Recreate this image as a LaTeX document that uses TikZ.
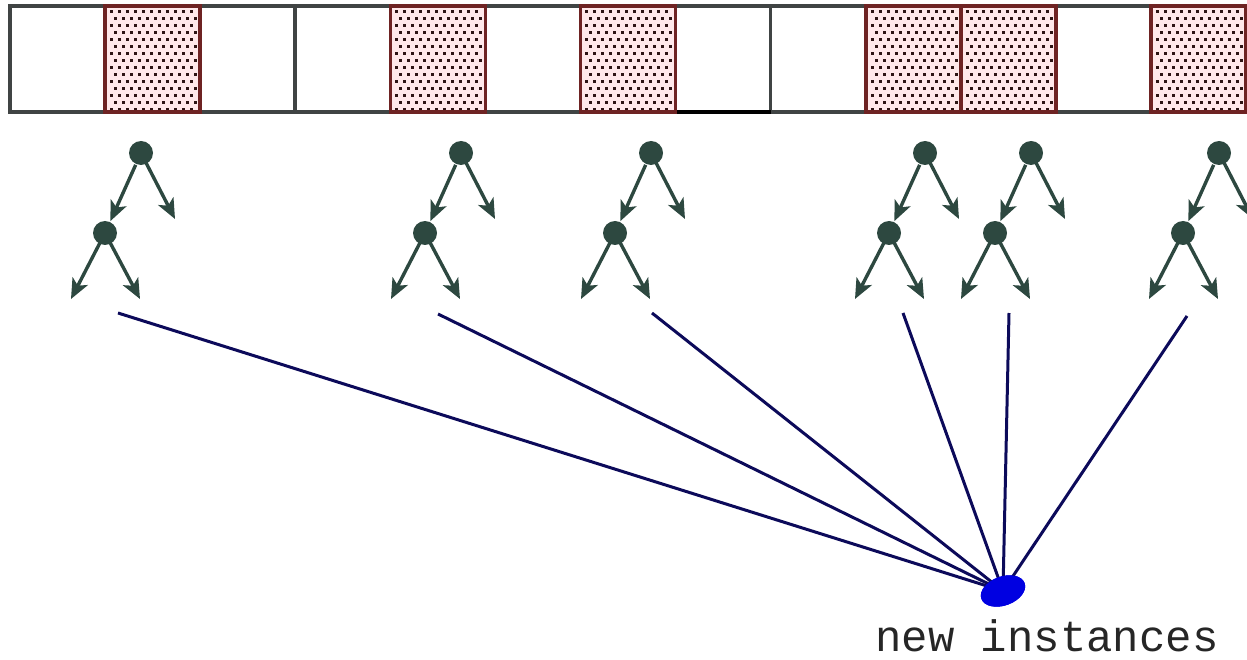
\documentclass[tikz,border=0pt]{standalone}
\usepackage{fontspec}
\setmonofont{Liberation Mono}
\usetikzlibrary{arrows.meta,shapes.geometric}
\definecolor{barline}{RGB}{64,68,68}
\definecolor{hatchline}{RGB}{110,35,35}
\definecolor{hatchfill}{RGB}{255,232,234}
\definecolor{dotcol}{RGB}{45,20,20}
\definecolor{treecol}{RGB}{45,72,64}
\definecolor{linkcol}{RGB}{12,10,90}
\definecolor{blobcol}{RGB}{0,0,225}
\begin{document}
\begin{tikzpicture}[x=1pt,y=-1pt,
  treenode/.style={circle,fill=treecol,inner sep=0pt,minimum size=24pt,outer sep=1pt},
  treearrow/.style={draw=treecol,line width=3.4pt,-{Stealth[length=20pt,width=17pt,inset=5pt]}},
  link/.style={draw=linkcol,line width=3pt},
  blob/.style={ellipse,fill=blobcol,inner sep=0pt,minimum width=46pt,minimum height=29pt,rotate=20},
  label/.style={font=\ttfamily\fontsize{44}{50}\selectfont,text=black!85,anchor=base}]
\useasboundingbox (0,0) rectangle (1247,660);
\def\cw{95.08}
% the strip of thirteen cells
\draw[barline,line width=3.6pt] (10,6) rectangle (1245.5,112);
\foreach \k in {1,...,12} {
  \draw[barline,line width=3.6pt] ({10+\k*\cw},6) -- ({10+\k*\cw},112);
}
\draw[black,line width=3.6pt] ({10+7*\cw},112) -- ({10+8*\cw},112);
% dotted (occupied) cells
\foreach \k in {1,4,6,9,10,12} {
  \pgfmathsetmacro\xa{10+\k*\cw}
  \fill[hatchfill] (\xa,6) rectangle ({\xa+\cw},112);
  \foreach \j in {0,...,14} {
    \foreach \i in {0,...,10} {
      \fill[dotcol] ({\xa+5+8*\i+4*mod(\j,2)},{10+7*\j}) rectangle ++(2.8,2.8);
    }
  }
  \draw[hatchline,line width=3.6pt] (\xa,6) rectangle ({\xa+\cw},112);
}
% the small trees
\foreach \n/\x in {1/141,2/461,3/651,4/925,5/1031,6/1219} {
  \node[treenode] (r\n) at (\x,153) {};
  \node[treenode] (c\n) at (\x-36,233) {};
  \coordinate (rr\n) at (\x+34,219);
  \coordinate (cl\n) at (\x-70,299);
  \coordinate (cr\n) at (\x-1,299);
  \draw[treearrow] (r\n) -- (c\n);
  \draw[treearrow] (r\n.center) -- (rr\n);
  \draw[treearrow] (c\n.center) -- (cl\n);
  \draw[treearrow] (c\n.center) -- (cr\n);
}
% links to the new instances
\node[blob] (new) at (1003,591) {};
\foreach \n/\x/\y in {1/118/313,2/438/314,3/652/313,4/903/313,5/1009/313,6/1187/316} {
  \coordinate (t\n) at (\x,\y);
  \draw[link] (t\n) -- (new.center);
}
\node[blob] at (new) {};
\node[label] (lbl) at (1047,651) {new instances};
\end{tikzpicture}
\end{document}
